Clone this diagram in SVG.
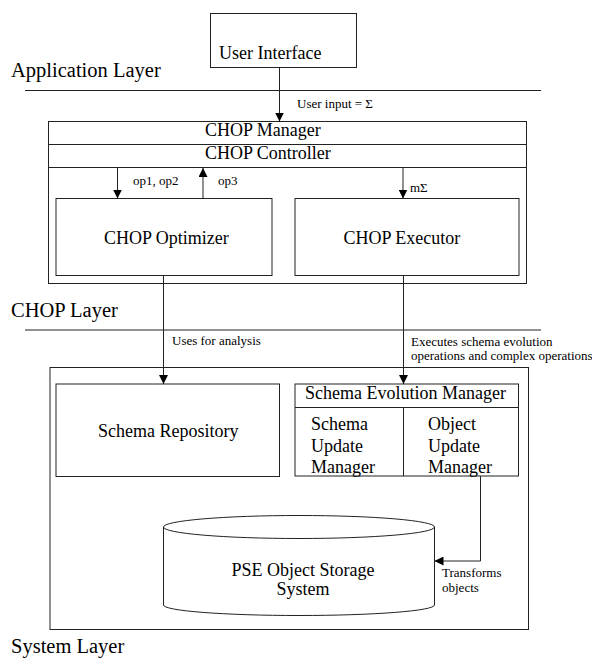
<svg xmlns="http://www.w3.org/2000/svg" width="592" height="667" viewBox="0 0 592 667">
  <style>
    .box { fill: #fff; stroke: #222; stroke-width: 1; }
    .ln { fill: none; stroke: #222; stroke-width: 1; }
    text { font-family: "Liberation Serif", "Times New Roman", Times, "DejaVu Serif", serif; fill: #000; }
    .big { font-size: 20.5px; }
    .mid { font-size: 18px; }
    .small { font-size: 13px; }
  </style>
  <defs>
    <marker id="arrow" viewBox="0 0 10 10" refX="10" refY="5" markerWidth="9" markerHeight="9" markerUnits="userSpaceOnUse" orient="auto">
      <path d="M0,0 L10,5 L0,10 z" fill="#000"/>
    </marker>
  </defs>

  <rect width="592" height="667" fill="#fff"/>

  <!-- layer labels and separators -->
  <g id="layers">
    <text class="big" x="11" y="77">Application Layer</text>
    <line class="ln" x1="25" y1="90.5" x2="541" y2="90.5"/>
    <text class="big" x="11" y="316.5">CHOP Layer</text>
    <line class="ln" x1="25" y1="330" x2="541" y2="330"/>
    <text class="big" x="11" y="653">System Layer</text>
  </g>

  <g id="user-interface">
    <rect class="box" x="210.5" y="13.5" width="146" height="54"/>
    <text class="mid" x="219" y="59">User Interface</text>
  </g>

  <g id="chop-manager">
    <rect class="box" x="48.5" y="121.5" width="478" height="162"/>
    <line class="ln" x1="48.5" y1="144.5" x2="526.5" y2="144.5"/>
    <text class="mid" x="205" y="136">CHOP Manager</text>
  </g>

  <g id="chop-controller">
    <line class="ln" x1="48.5" y1="167.5" x2="526.5" y2="167.5"/>
    <text class="mid" x="205" y="159">CHOP Controller</text>
  </g>

  <g id="chop-optimizer">
    <rect class="box" x="56" y="198.5" width="216" height="77"/>
    <text class="mid" x="104" y="244">CHOP Optimizer</text>
  </g>

  <g id="chop-executor">
    <rect class="box" x="295" y="198.5" width="224" height="77"/>
    <text class="mid" x="343.5" y="244">CHOP Executor</text>
  </g>

  <g id="system-layer">
    <rect class="box" x="50" y="367.5" width="478.5" height="262"/>
  </g>

  <g id="schema-repository">
    <rect class="box" x="56" y="384" width="223.5" height="92.5"/>
    <text class="mid" x="98" y="437">Schema Repository</text>
  </g>

  <g id="schema-evolution-manager">
    <rect class="box" x="295" y="384" width="223.5" height="92"/>
    <line class="ln" x1="295" y1="407.5" x2="518.5" y2="407.5"/>
    <text class="mid" x="305" y="399">Schema Evolution Manager</text>
  </g>

  <g id="schema-update-manager">
    <line class="ln" x1="403.5" y1="407.5" x2="403.5" y2="476"/>
    <text class="mid" x="311" y="430">Schema</text>
    <text class="mid" x="311" y="451.5">Update</text>
    <text class="mid" x="311" y="472.5">Manager</text>
  </g>

  <g id="object-update-manager">
    <text class="mid" x="428" y="430">Object</text>
    <text class="mid" x="428" y="451.5">Update</text>
    <text class="mid" x="428" y="472.5">Manager</text>
  </g>

  <g id="object-storage">
    <path class="box" d="M163.5,527 A135.5,11.5 0 0 1 434.5,527 L434.5,605 A135.5,10.5 0 0 1 163.5,605 Z"/>
    <path class="ln" d="M163.5,527 A135.5,11.5 0 0 0 434.5,527"/>
    <text class="mid" x="303" y="575.5" text-anchor="middle">PSE Object Storage</text>
    <text class="mid" x="303" y="594.5" text-anchor="middle">System</text>
  </g>

  <!-- connectors -->
  <g id="connectors">
    <line class="ln" x1="279.5" y1="67.5" x2="279.5" y2="121.5" marker-end="url(#arrow)"/>
    <text class="small" x="297" y="108">User input = Σ</text>

    <line class="ln" x1="117.5" y1="167.5" x2="117.5" y2="198.5" marker-end="url(#arrow)"/>
    <text class="small" x="133" y="185">op1, op2</text>

    <line class="ln" x1="203" y1="198.5" x2="203" y2="168" marker-end="url(#arrow)"/>
    <text class="small" x="218" y="185">op3</text>

    <line class="ln" x1="403" y1="167.5" x2="403" y2="198.5" marker-end="url(#arrow)"/>
    <text class="small" x="410" y="191.5">mΣ</text>

    <line class="ln" x1="163.5" y1="275.5" x2="163.5" y2="384" marker-end="url(#arrow)"/>
    <text class="small" x="172" y="345">Uses for analysis</text>

    <line class="ln" x1="403.5" y1="275.5" x2="403.5" y2="384" marker-end="url(#arrow)"/>
    <text class="small" x="411" y="345.5">Executes schema evolution</text>
    <text class="small" x="411" y="359.5">operations and complex operations</text>

    <polyline class="ln" points="480.5,476 480.5,561 434.5,561" marker-end="url(#arrow)"/>
    <text class="small" x="442" y="577">Transforms</text>
    <text class="small" x="442" y="592">objects</text>
  </g>
</svg>
